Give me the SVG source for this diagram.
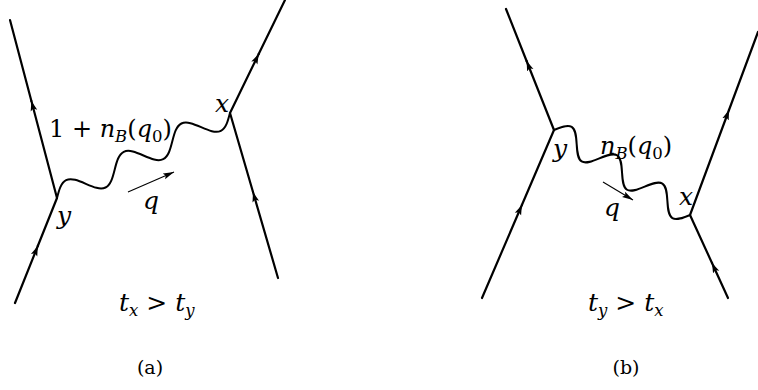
<svg xmlns="http://www.w3.org/2000/svg" width="758" height="390" viewBox="0 0 758 390">
<style>
.f{fill:none;stroke:#000;stroke-width:2.2;stroke-linecap:round}
.w{fill:none;stroke:#000;stroke-width:2}
.q{fill:none;stroke:#000;stroke-width:1.1}
text{font-family:"DejaVu Serif",serif;font-size:25px;fill:#000}
.m{font-size:24px}
.i{font-style:italic}
.s{font-size:16.5px}
.c{font-size:19px}
</style>
<defs>
<marker id="fa" markerUnits="userSpaceOnUse" markerWidth="12" markerHeight="10" viewBox="0 0 12 8" refX="10" refY="4" orient="auto">
<path d="M0,0.6 L10,4 L0,7.4 L2.2,4 Z" fill="#000"/>
</marker>
<marker id="qa" markerUnits="userSpaceOnUse" markerWidth="12" markerHeight="8" viewBox="0 0 12 8" refX="11" refY="4" orient="auto">
<path d="M0,1 L11,4 L0,7 L2,4 Z" fill="#000"/>
</marker>
</defs>
<g id="connectors">
<path class="f" d="M15,303 L37.8,246" marker-end="url(#fa)"/>
<path class="f" d="M37.8,246 L57,198"/>
<path class="f" d="M57,198 L31.4,101" marker-end="url(#fa)"/>
<path class="f" d="M31.4,101 L10,20"/>
<path class="f" d="M278,278 L253,192" marker-end="url(#fa)"/>
<path class="f" d="M253,192 L230,113"/>
<path class="f" d="M230,113 L258.7,54" marker-end="url(#fa)"/>
<path class="f" d="M258.7,54 L285,0"/>
<path class="w" transform="translate(57,198) rotate(-26.17)" d="M0,0 c5.24,-6.15 10.26,-12 16.06,-12 c5.8,0 10.82,5.85 16.06,12 c5.24,6.15 10.26,12 16.06,12 c5.8,0 10.82,-5.85 16.06,-12 c5.24,-6.15 10.26,-12 16.06,-12 c5.8,0 10.82,5.85 16.06,12 c5.24,6.15 10.26,12 16.06,12 c5.8,0 10.82,-5.85 16.06,-12 c5.24,-6.15 10.26,-12 16.06,-12 c5.8,0 10.82,5.85 16.06,12 c5.24,6.15 10.26,12 16.06,12 c5.8,0 10.82,-5.85 16.06,-12"/>
<path class="q" d="M128,192 L174,172" marker-end="url(#qa)"/>
<path class="f" d="M482,298 L521.9,205" marker-end="url(#fa)"/>
<path class="f" d="M521.9,205 L554,130"/>
<path class="f" d="M554,130 L526.6,61" marker-end="url(#fa)"/>
<path class="f" d="M526.6,61 L506,9"/>
<path class="f" d="M728,298 L712,263" marker-end="url(#fa)"/>
<path class="f" d="M712,263 L690,215"/>
<path class="f" d="M690,215 L729,110" marker-end="url(#fa)"/>
<path class="f" d="M729,110 L758,32"/>
<path class="w" transform="translate(554,130) rotate(32)" d="M0,0 c4.36,-6.15 8.53,-12 13.37,-12 c4.84,0 9.01,5.85 13.37,12 c4.36,6.15 8.53,12 13.37,12 c4.84,0 9.01,-5.85 13.37,-12 c4.36,-6.15 8.53,-12 13.37,-12 c4.84,0 9.01,5.85 13.37,12 c4.36,6.15 8.53,12 13.37,12 c4.84,0 9.01,-5.85 13.37,-12 c4.36,-6.15 8.53,-12 13.37,-12 c4.84,0 9.01,5.85 13.37,12 c4.36,6.15 8.53,12 13.37,12 c4.84,0 9.01,-5.85 13.37,-12"/>
<path class="q" d="M603,182 L633,200" marker-end="url(#qa)"/>
</g>
<g id="panel-a">
<text class="m" x="49" y="137">1 + <tspan class="i">n</tspan><tspan class="i s" dy="5">B</tspan><tspan dy="-5">(</tspan><tspan class="i">q</tspan><tspan class="s" dy="5">0</tspan><tspan dy="-5">)</tspan></text>
<text class="i" x="215" y="112">x</text>
<text class="i" x="57" y="224">y</text>
<text class="i" x="143" y="209">q</text>
<text x="119" y="311"><tspan class="i">t</tspan><tspan class="i s" dy="5">x</tspan><tspan dy="-5"> &gt; </tspan><tspan class="i">t</tspan><tspan class="i s" dy="5">y</tspan></text>
<text class="c" x="150" y="374" text-anchor="middle">(a)</text>
</g>
<g id="panel-b">
<text class="m" x="600" y="154"><tspan class="i">n</tspan><tspan class="i s" dy="5">B</tspan><tspan dy="-5">(</tspan><tspan class="i">q</tspan><tspan class="s" dy="5">0</tspan><tspan dy="-5">)</tspan></text>
<text class="i" x="553" y="157">y</text>
<text class="i" x="604" y="216">q</text>
<text class="i" x="679" y="205">x</text>
<text x="588" y="311"><tspan class="i">t</tspan><tspan class="i s" dy="5">y</tspan><tspan dy="-5"> &gt; </tspan><tspan class="i">t</tspan><tspan class="i s" dy="5">x</tspan></text>
<text class="c" x="626" y="374" text-anchor="middle">(b)</text>
</g>
</svg>
